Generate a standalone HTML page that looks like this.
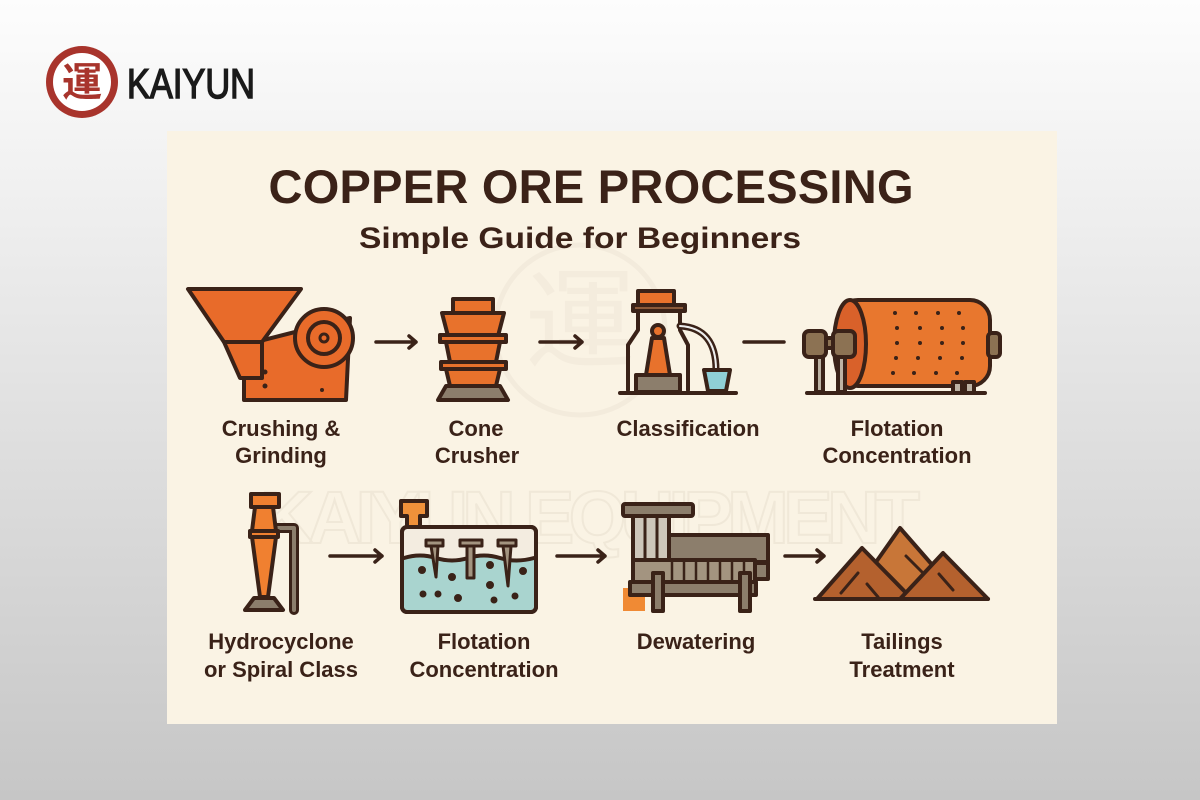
<!DOCTYPE html>
<html><head><meta charset="utf-8"><style>
html,body{margin:0;padding:0}
body{width:1200px;height:800px;background:linear-gradient(#fdfdfd 0%,#f2f2f2 20%,#dcdcdc 60%,#c6c6c6 100%);font-family:"Liberation Sans","DejaVu Sans",sans-serif;overflow:hidden}
svg{display:block}
</style></head><body>
<svg width="1200" height="800" viewBox="0 0 1200 800" xmlns="http://www.w3.org/2000/svg">
<!-- logo -->
<circle cx="82" cy="82" r="36" fill="#a8342c"/>
<circle cx="82" cy="82" r="29" fill="#fff"/>
<text x="82" y="96" text-anchor="middle" font-family="Noto Sans CJK SC,sans-serif" font-size="40" font-weight="bold" fill="#a8342c">運</text>
<text x="127" y="98" font-family="Liberation Sans,sans-serif" font-size="42" fill="#1a1a1a" stroke="#1a1a1a" stroke-width="1.5" textLength="128" lengthAdjust="spacingAndGlyphs">KAIYUN</text>

<rect x="167" y="131" width="890" height="593" fill="#faf3e4"/>
<!-- watermark -->
<circle cx="580" cy="330" r="85" fill="none" stroke="#f3ebdc" stroke-width="5"/>
<text x="580" y="360" text-anchor="middle" font-family="Noto Sans CJK SC,sans-serif" font-size="110" fill="#f4ecdd">運</text>
<text x="590" y="543" text-anchor="middle" font-size="74" font-weight="bold" fill="none" stroke="#f0e8d8" stroke-width="2" textLength="660">KAIYUN EQUIPMENT</text>

<text x="591" y="203" text-anchor="middle" font-size="47" font-weight="bold" fill="#3b2218" textLength="645">COPPER ORE PROCESSING</text>
<text x="580" y="248" text-anchor="middle" font-size="30" font-weight="bold" fill="#3b2218" textLength="442" lengthAdjust="spacingAndGlyphs">Simple Guide for Beginners</text>

<g stroke="#3a2218" stroke-width="4" stroke-linejoin="round" stroke-linecap="round">
<!-- crusher -->
<polygon points="244,345 350,318 346,400 244,400" fill="#e86b2a"/>
<polygon points="224,342 262,342 262,378 240,378" fill="#e86b2a"/>
<polygon points="188,289 301,289 262,342 224,342" fill="#e86b2a"/>
<circle cx="324" cy="338" r="29" fill="#e86b2a"/>
<circle cx="324" cy="338" r="16" fill="#e86b2a"/>
<circle cx="324" cy="338" r="4" fill="#e86b2a" stroke-width="3"/>
<g fill="#3a2218" stroke="none"><circle cx="265" cy="372" r="2.5"/><circle cx="265" cy="386" r="2.5"/><circle cx="322" cy="390" r="2"/></g>
<!-- cone crusher -->
<rect x="453" y="299" width="40" height="14" fill="#e8722c"/>
<polygon points="442,313 504,313 498,336 448,336" fill="#e8722c"/>
<rect x="440" y="335" width="66" height="7" fill="#e8722c"/>
<polygon points="446,342 500,342 496,362 450,362" fill="#e8722c"/>
<rect x="441" y="362" width="65" height="7" fill="#e8722c"/>
<polygon points="446,369 500,369 496,386 450,386" fill="#e8722c"/>
<polygon points="446,386 500,386 508,400 438,400" fill="#8c7e6c"/>
<!-- classification -->
<rect x="638" y="291" width="36" height="14" fill="#e8722c"/>
<rect x="633" y="305" width="52" height="6" fill="#8b5a3a"/>
<path d="M638,311 V330 L628,345 V390 M680,311 V330 L688,345 V390" fill="none"/>
<circle cx="658" cy="331" r="6" fill="#e8722c"/>
<polygon points="652,338 664,338 670,375 646,375" fill="#e8722c"/>
<rect x="636" y="375" width="44" height="17" fill="#8c7e6c"/>
<path d="M680,326 Q716,328 716,370" fill="none" stroke="#3a2218" stroke-width="7"/>
<path d="M680,326 Q716,328 716,370" fill="none" stroke="#eee" stroke-width="2"/>
<polygon points="704,370 730,370 726,391 708,391" fill="#8fcfd6"/>
<line x1="620" y1="393" x2="736" y2="393"/>
<!-- ball mill -->
<rect x="838" y="300" width="152" height="86" rx="20" fill="#e8772e"/>
<ellipse cx="850" cy="344" rx="16" ry="44" fill="#d9612a"/>
<g fill="#3a2218" stroke="none">
<circle cx="895" cy="313" r="2"/><circle cx="916" cy="313" r="2"/><circle cx="938" cy="313" r="2"/><circle cx="959" cy="313" r="2"/>
<circle cx="897" cy="328" r="2"/><circle cx="920" cy="328" r="2"/><circle cx="942" cy="328" r="2"/><circle cx="963" cy="328" r="2"/>
<circle cx="897" cy="343" r="2"/><circle cx="920" cy="343" r="2"/><circle cx="942" cy="343" r="2"/><circle cx="963" cy="343" r="2"/>
<circle cx="896" cy="358" r="2"/><circle cx="918" cy="358" r="2"/><circle cx="940" cy="358" r="2"/><circle cx="962" cy="358" r="2"/>
<circle cx="893" cy="373" r="2"/><circle cx="914" cy="373" r="2"/><circle cx="936" cy="373" r="2"/><circle cx="957" cy="373" r="2"/>
</g>
<rect x="988" y="333" width="12" height="24" rx="4" fill="#8c7253"/>
<rect x="823" y="338" width="12" height="10" fill="#8c7253"/>
<rect x="804" y="331" width="22" height="26" rx="5" fill="#8c7253"/>
<rect x="833" y="331" width="22" height="26" rx="5" fill="#8c7253"/>
<rect x="816" y="357" width="7" height="35" fill="#bdb3a4"/>
<rect x="838" y="357" width="7" height="35" fill="#bdb3a4"/>
<rect x="953" y="382" width="9" height="11" fill="#bdb3a4"/>
<rect x="965" y="382" width="9" height="11" fill="#bdb3a4"/>
<line x1="807" y1="393" x2="985" y2="393"/>
<!-- hydrocyclone -->
<path d="M277,528 H294 V610" fill="none" stroke="#3a2218" stroke-width="10"/>
<path d="M277,528 H294 V610" fill="none" stroke="#8c7e6c" stroke-width="4"/>
<rect x="251" y="494" width="28" height="13" fill="#f08030"/>
<polygon points="255,507 273,507 276,531 252,531" fill="#f08030"/>
<rect x="250" y="531" width="28" height="6" fill="#f08030"/>
<polygon points="252,537 276,537 268,597 260,597" fill="#f08030"/>
<polygon points="254,598 274,598 283,610 245,610" fill="#8c7e6c"/>
<!-- flotation tank -->
<polygon points="401,501 427,501 427,516 420,516 420,528 407,528 407,516 401,516" fill="#f0913a"/>
<rect x="402" y="527" width="134" height="85" rx="5" fill="#f3ece0"/>
<path d="M404,558 Q420,553 436,558 T468,558 T500,558 T534,558 V606 Q534,610 530,610 H408 Q404,610 404,606 Z" fill="#a9d4cf" stroke="none"/>
<path d="M404,558 Q420,553 436,558 T468,558 T500,558 T534,558" fill="none"/>
<rect x="402" y="527" width="134" height="85" rx="5" fill="none"/>
<rect x="426" y="540" width="17" height="6" fill="#a39480" stroke-width="3"/>
<polygon points="431,546 438,546 436,577" fill="#a39480" stroke-width="3"/>
<rect x="460" y="540" width="22" height="6" fill="#a39480" stroke-width="3"/>
<rect x="467" y="546" width="7" height="32" fill="#a39480" stroke-width="3"/>
<rect x="498" y="540" width="18" height="6" fill="#a39480" stroke-width="3"/>
<polygon points="503,546 511,546 508,586" fill="#a39480" stroke-width="3"/>
<g fill="#3a2218" stroke-width="2"><circle cx="422" cy="570" r="3"/><circle cx="452" cy="577" r="3"/><circle cx="490" cy="565" r="3"/><circle cx="490" cy="585" r="3"/><circle cx="523" cy="571" r="3"/><circle cx="423" cy="594" r="2.5"/><circle cx="438" cy="594" r="2.5"/><circle cx="458" cy="598" r="3"/><circle cx="494" cy="600" r="2.5"/><circle cx="515" cy="596" r="2.5"/></g>
<!-- dewatering -->
<rect x="623" y="588" width="22" height="23" fill="#f08a34" stroke="none"/>
<rect x="668" y="535" width="100" height="27" fill="#8c7e6c"/>
<rect x="633" y="516" width="36" height="46" fill="#cdc6ba"/>
<line x1="645" y1="518" x2="645" y2="560" stroke-width="3"/><line x1="657" y1="518" x2="657" y2="560" stroke-width="3"/>
<rect x="623" y="504" width="70" height="12" rx="2" fill="#8c7e6c"/>
<rect x="633" y="560" width="122" height="22" fill="#a39480"/>
<rect x="755" y="563" width="13" height="16" fill="#8c7e6c"/>
<g stroke-width="2.5"><line x1="672" y1="562" x2="672" y2="580"/><line x1="684" y1="562" x2="684" y2="580"/><line x1="696" y1="562" x2="696" y2="580"/><line x1="708" y1="562" x2="708" y2="580"/><line x1="720" y1="562" x2="720" y2="580"/><line x1="732" y1="562" x2="732" y2="580"/><line x1="744" y1="562" x2="744" y2="580"/></g>
<rect x="630" y="582" width="126" height="13" fill="#8c7e6c"/>
<rect x="653" y="573" width="10" height="38" fill="#8c7e6c"/>
<rect x="740" y="573" width="10" height="38" fill="#8c7e6c"/>
<!-- tailings -->
<polygon points="850,599 900,528 962,599" fill="#c87638"/>
<polygon points="817,599 862,548 912,599" fill="#b4612e"/>
<polygon points="900,599 943,553 988,599" fill="#b4612e"/>
<line x1="815" y1="599" x2="988" y2="599"/>
<g stroke-width="3"><line x1="841" y1="593" x2="858" y2="573"/><line x1="867" y1="584" x2="878" y2="597"/><line x1="906" y1="556" x2="922" y2="572"/><line x1="939" y1="574" x2="953" y2="590"/></g>
</g>
<!-- arrows -->
<g stroke="#3a2218" stroke-width="3.5" fill="none" stroke-linecap="round" stroke-linejoin="round">
<path d="M376,342 H416 M409,336 L416,342 L409,348"/>
<path d="M540,342 H582 M575,336 L582,342 L575,348"/>
<path d="M744,342 H784"/>
<path d="M330,556 H382 M375,550 L382,556 L375,562"/>
<path d="M557,556 H605 M598,550 L605,556 L598,562"/>
<path d="M785,556 H824 M817,550 L824,556 L817,562"/>
</g>
<g font-size="22" font-weight="bold" fill="#3a2218" text-anchor="middle">
<text x="281" y="436">Crushing &amp;</text><text x="281" y="463">Grinding</text>
<text x="476" y="436">Cone</text><text x="477" y="463">Crusher</text>
<text x="688" y="436">Classification</text>
<text x="897" y="436">Flotation</text><text x="897" y="463">Concentration</text>
<text x="281" y="649">Hydrocyclone</text><text x="281" y="677">or Spiral Class</text>
<text x="484" y="649">Flotation</text><text x="484" y="677">Concentration</text>
<text x="696" y="649">Dewatering</text>
<text x="902" y="649">Tailings</text><text x="902" y="677">Treatment</text>
</g>
</svg>
</body></html>
